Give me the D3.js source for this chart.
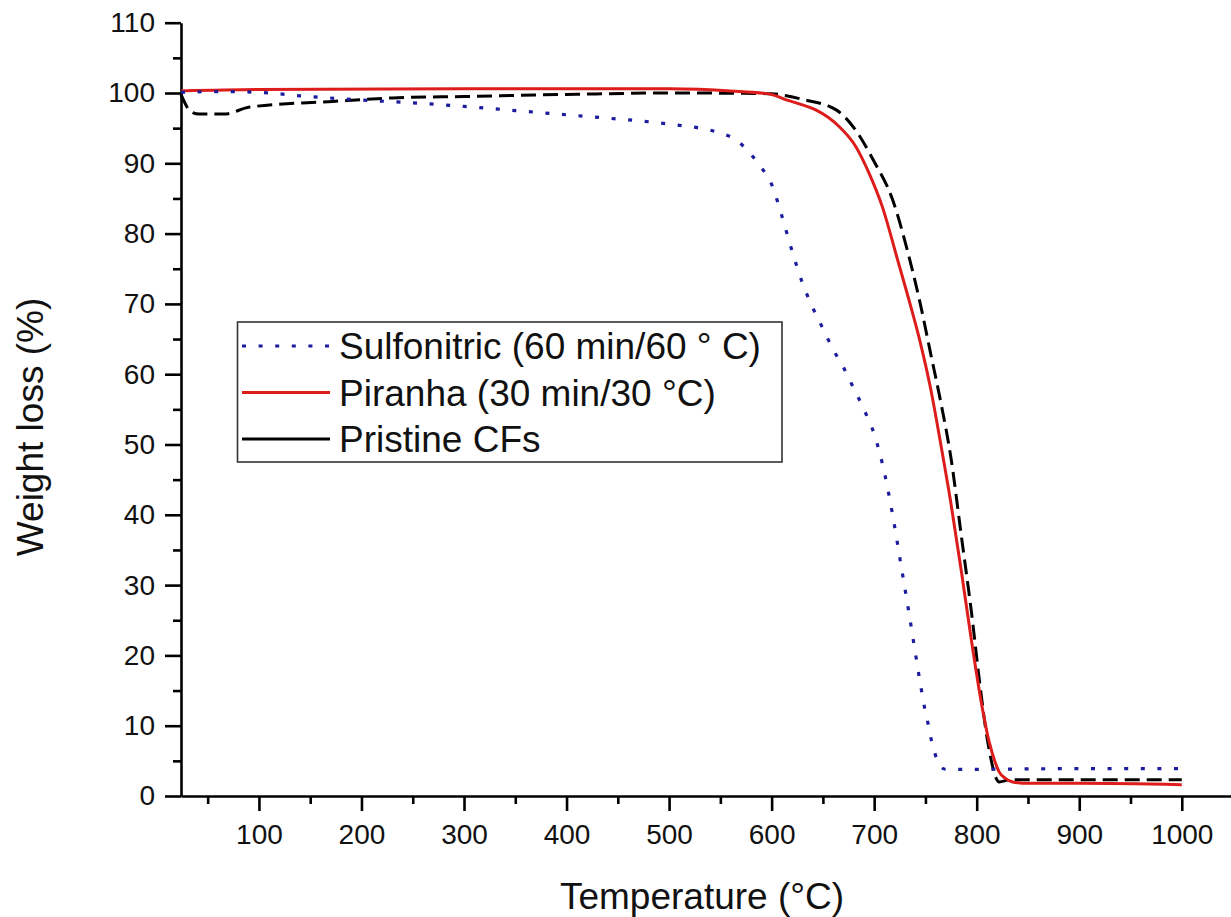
<!DOCTYPE html>
<html>
<head>
<meta charset="utf-8">
<script src="https://cdn.jsdelivr.net/npm/d3@7"></script>
<style>
  html, body { margin: 0; padding: 0; background: #fff; }
  svg { display: block; font-family: "Liberation Sans", Arial, sans-serif; }
</style>
</head>
<body>
<svg id="chart" width="1231" height="917"></svg>
<script>
// ---- data ----
const xMajorTicks = [100, 200, 300, 400, 500, 600, 700, 800, 900, 1000];
const xMinorTicks = [50, 150, 250, 350, 450, 550, 650, 750, 850, 950];
const yMajorTicks = [0, 10, 20, 30, 40, 50, 60, 70, 80, 90, 100, 110];
const yMinorTicks = [5, 15, 25, 35, 45, 55, 65, 75, 85, 95, 105];

const seriesNames = ["Sulfonitric (60 min/60 \u00B0 C)", "Piranha (30 min/30 \u00B0C)", "Pristine CFs"];

const sulfoT = [24, 60, 100, 140, 200, 250, 300, 350, 400, 450, 481, 510, 530, 550, 562, 572, 582, 590, 600, 610, 620, 630, 640, 650, 660, 670, 680, 690, 700, 710, 718, 726, 734, 740, 745, 749, 753, 756, 761, 765, 770, 800, 900, 1000];
const sulfoW = [100.1, 100.2, 100.1, 99.6, 99.0, 98.6, 98.1, 97.5, 96.9, 96.3, 95.9, 95.4, 95.0, 94.3, 93.6, 92.5, 90.9, 89.4, 87.0, 82.5, 77.5, 73.0, 69.5, 66.5, 63.5, 61.0, 58.0, 55.0, 51.5, 46.0, 40.0, 33.0, 26.0, 20.5, 16.0, 12.7, 10.0, 7.8, 5.3, 4.1, 3.8, 3.8, 3.9, 3.9];

const piranhaT = [24, 100, 300, 500, 560, 600, 611, 630, 643, 666, 682, 695, 708, 723, 735, 745, 755, 765, 775, 785, 795, 804, 812, 818, 822, 828, 835, 850, 900, 1000];
const piranhaW = [100.3, 100.5, 100.6, 100.6, 100.3, 99.8, 99.2, 98.3, 97.6, 95.2, 92.4, 88.6, 83.8, 76.2, 70.0, 64.5, 58.0, 50.0, 41.5, 32.0, 22.0, 13.7, 7.8, 4.8, 3.4, 2.5, 2.0, 1.8, 1.8, 1.6];

const pristineT = [24, 34, 42, 66, 91, 172, 230, 300, 400, 500, 600, 611, 630, 663, 682, 699, 718, 734, 745, 755, 765, 775, 785, 795, 803, 811, 822, 832, 900, 1000];
const pristineW = [99.8, 97.3, 97.0, 97.0, 98.0, 98.8, 99.3, 99.5, 99.8, 100.0, 99.9, 99.7, 99.1, 97.6, 94.7, 90.5, 84.8, 76.7, 70.0, 63.0, 56.0, 48.0, 37.0, 26.0, 16.0, 7.5, 2.0, 2.3, 2.3, 2.3];

// ---- layout ----
const svg = d3.select("#chart");
const x = d3.scaleLinear().domain([24, 1048]).range([181, 1231]);
const y = d3.scaleLinear().domain([0, 110]).range([796, 22.7]);

const font = "Liberation Sans, Arial, sans-serif";

// axes
const xAxisG = svg.append("g").attr("transform", `translate(0,${y(0)})`);
xAxisG.call(d3.axisBottom(x).tickValues(xMajorTicks).tickSize(15).tickSizeOuter(0).tickPadding(13).tickFormat(d3.format("d")));
const xMinorG = svg.append("g").attr("transform", `translate(0,${y(0)})`);
xMinorG.call(d3.axisBottom(x).tickValues(xMinorTicks).tickSize(8).tickSizeOuter(0).tickFormat(""));
xMinorG.select(".domain").remove();

const yAxisG = svg.append("g").attr("transform", `translate(${x(24)},0)`);
yAxisG.call(d3.axisLeft(y).tickValues(yMajorTicks).tickSize(16).tickSizeOuter(0).tickPadding(10).tickFormat(d3.format("d")));
const yMinorG = svg.append("g").attr("transform", `translate(${x(24)},0)`);
yMinorG.call(d3.axisLeft(y).tickValues(yMinorTicks).tickSize(8).tickSizeOuter(0).tickFormat(""));
yMinorG.select(".domain").remove();

svg.selectAll(".domain, .tick line").attr("stroke", "#000").attr("stroke-width", 2.6);
svg.selectAll(".tick text").attr("font-family", font).attr("font-size", 28).attr("fill", "#111");

// series
const line = d3.line().x(d => x(d[0])).y(d => y(d[1])).curve(d3.curveMonotoneX);
const zip = (a, b) => a.map((v, i) => [v, b[i]]);

const plot = svg.append("g");
plot.append("path").datum(zip(pristineT, pristineW)).attr("d", line)
  .attr("fill", "none").attr("stroke", "#000").attr("stroke-width", 3).attr("stroke-dasharray", "15 7");
plot.append("path").datum(zip(piranhaT, piranhaW)).attr("d", line)
  .attr("fill", "none").attr("stroke", "#dd1c1c").attr("stroke-width", 3);
plot.append("path").datum(zip(sulfoT, sulfoW)).attr("d", line)
  .attr("fill", "none").attr("stroke", "#1c1c9e").attr("stroke-width", 3.2).attr("stroke-dasharray", "4 12.6");

// legend
const leg = svg.append("g");
leg.append("rect").attr("x", 237.5).attr("y", 322).attr("width", 544.5).attr("height", 140)
  .attr("fill", "#fff").attr("stroke", "#333").attr("stroke-width", 1.6);
const legStyles = [
  {stroke: "#1c1c9e", dash: "4 12.6", w: 3.2},
  {stroke: "#dd1c1c", dash: null, w: 3.2},
  {stroke: "#000", dash: null, w: 3}
];
seriesNames.forEach((name, i) => {
  const ry = 346 + i * 46.5;
  leg.append("line").attr("x1", 242).attr("x2", 330).attr("y1", ry).attr("y2", ry)
    .attr("stroke", legStyles[i].stroke).attr("stroke-width", legStyles[i].w)
    .attr("stroke-dasharray", legStyles[i].dash);
  leg.append("text").attr("x", 339).attr("y", ry + 13).attr("font-family", font)
    .attr("font-size", 37).attr("fill", "#111").text(name);
});

// axis titles
svg.append("text").attr("x", 702).attr("y", 909).attr("text-anchor", "middle")
  .attr("font-family", font).attr("font-size", 37).attr("fill", "#111").text("Temperature (\u00B0C)");
svg.append("text").attr("transform", "translate(43,427) rotate(-90)").attr("text-anchor", "middle")
  .attr("font-family", font).attr("font-size", 37).attr("fill", "#111").text("Weight loss (%)");
</script>
</body>
</html>
